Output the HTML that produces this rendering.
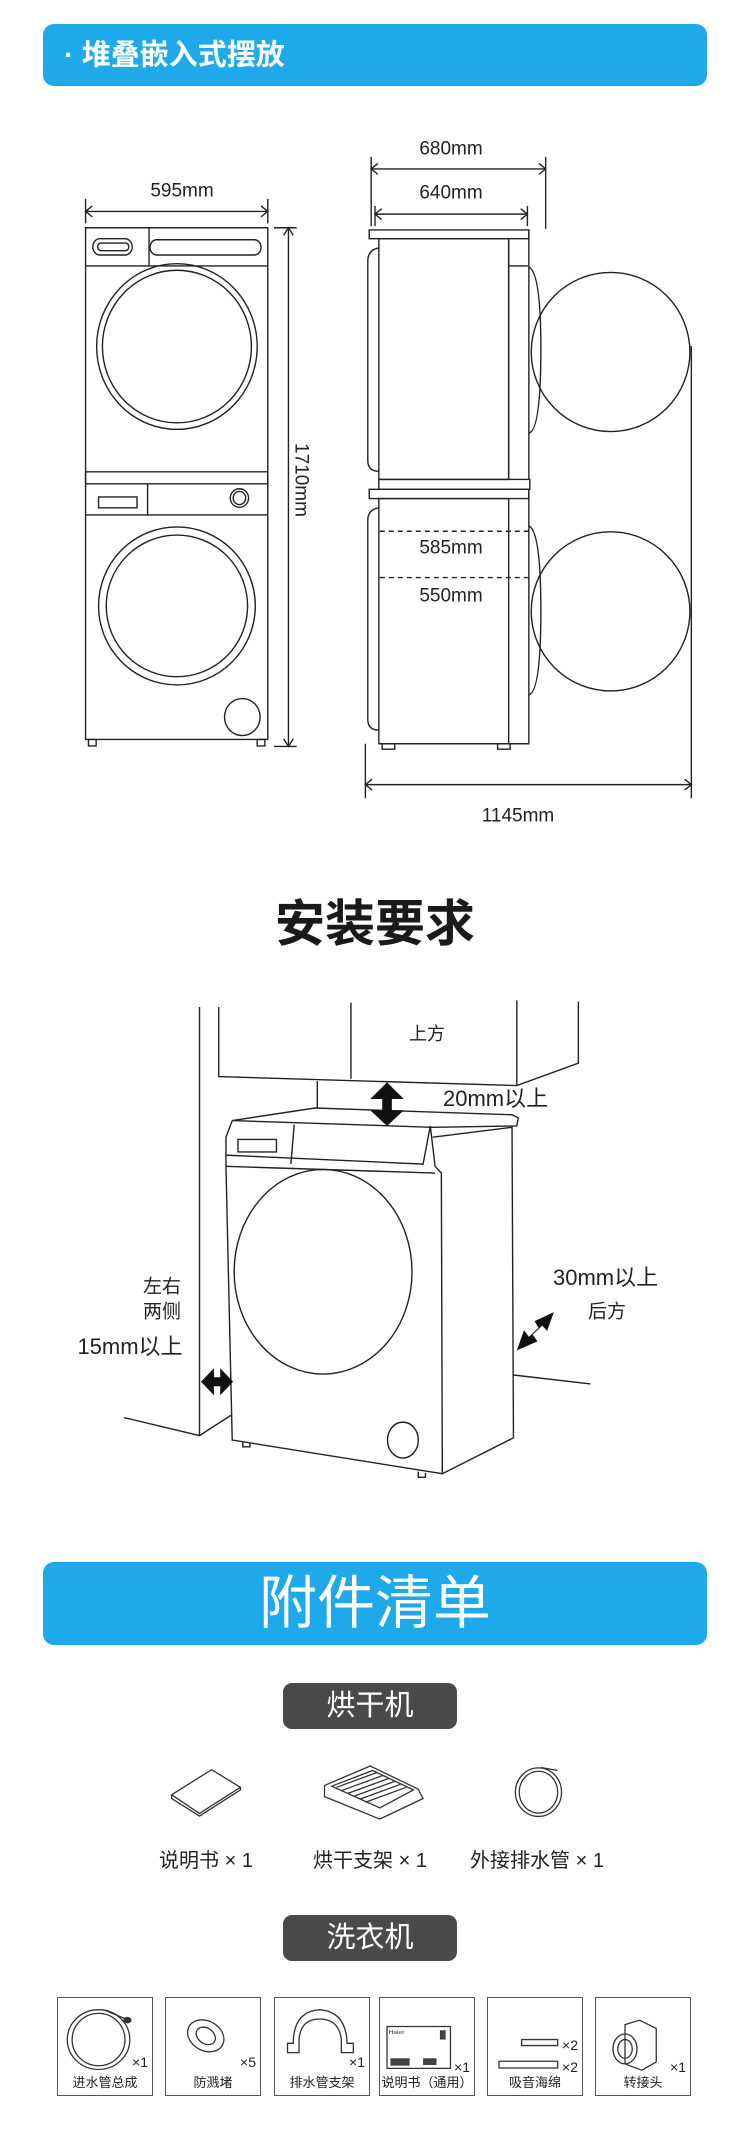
<!DOCTYPE html>
<html><head><meta charset="utf-8">
<style>
*{margin:0;padding:0;box-sizing:border-box}
body{width:750px;height:2133px;background:#fff;position:relative;overflow:hidden;font-family:"Liberation Sans","Noto Sans CJK SC",sans-serif;color:#222}
.a{position:absolute;white-space:nowrap;line-height:1}
.c{transform:translate(-50%,-50%)}
.l{transform:translateY(-50%)}
svg{position:absolute;left:0}
.bar{position:absolute;left:43px;width:664px;background:#1eaaea;border-radius:11px}
.lab{position:absolute;left:283px;width:174px;background:#4a4a4a;border-radius:9px;color:#fff;font-size:29px;text-align:center}
.box{position:absolute;border:1.5px solid #555;top:1997px;height:99px;width:96px}
.bl{position:absolute;bottom:4px;left:0;right:0;text-align:center;font-size:13px;color:#222}
</style></head><body>

<!-- Section 1 -->
<div class="bar" style="top:24px;height:62px"></div>
<div class="a l" style="left:64px;top:56px;font-size:29px;color:#fff;font-weight:bold">·&nbsp;堆叠嵌入式摆放</div>

<svg style="top:0" width="750" height="850" viewBox="0 0 1560 1560" preserveAspectRatio="none">
<g fill="none" stroke="#222" stroke-width="1.4" vector-effect="non-scaling-stroke">
<!-- left machine -->
<rect x="178" y="418" width="379" height="939" vector-effect="non-scaling-stroke"/>
<line x1="178" y1="488" x2="557" y2="488" vector-effect="non-scaling-stroke"/>
<line x1="310" y1="418" x2="310" y2="488" vector-effect="non-scaling-stroke"/>
<rect x="193" y="438" width="82" height="30" rx="15" vector-effect="non-scaling-stroke"/>
<rect x="203" y="446" width="65" height="14" rx="7" vector-effect="non-scaling-stroke"/>
<rect x="312" y="440" width="231" height="28" rx="14" vector-effect="non-scaling-stroke"/>
<ellipse cx="368" cy="636" rx="167" ry="152" vector-effect="non-scaling-stroke"/>
<ellipse cx="368" cy="636" rx="155" ry="140" vector-effect="non-scaling-stroke"/>
<rect x="178" y="866" width="379" height="22" vector-effect="non-scaling-stroke"/>
<line x1="178" y1="945" x2="557" y2="945" vector-effect="non-scaling-stroke"/>
<line x1="307" y1="888" x2="307" y2="945" vector-effect="non-scaling-stroke"/>
<rect x="205" y="912" width="80" height="20" vector-effect="non-scaling-stroke"/>
<ellipse cx="498" cy="914" rx="19" ry="17" vector-effect="non-scaling-stroke"/>
<ellipse cx="498" cy="914" rx="13" ry="12" vector-effect="non-scaling-stroke"/>
<ellipse cx="368" cy="1112" rx="163" ry="145" vector-effect="non-scaling-stroke"/>
<ellipse cx="368" cy="1112" rx="147" ry="130" vector-effect="non-scaling-stroke"/>
<ellipse cx="504" cy="1316" rx="37" ry="34" vector-effect="non-scaling-stroke"/>
<rect x="184" y="1357" width="16" height="12" vector-effect="non-scaling-stroke"/>
<rect x="535" y="1357" width="16" height="12" vector-effect="non-scaling-stroke"/>
<!-- dims left -->
<line x1="178" y1="388" x2="557" y2="388" vector-effect="non-scaling-stroke"/>
<line x1="178" y1="365" x2="178" y2="410" vector-effect="non-scaling-stroke"/>
<line x1="557" y1="365" x2="557" y2="410" vector-effect="non-scaling-stroke"/>
<polyline points="192,378 178,388 192,398" vector-effect="non-scaling-stroke"/>
<polyline points="543,378 557,388 543,398" vector-effect="non-scaling-stroke"/>
<line x1="600" y1="418" x2="600" y2="1370" vector-effect="non-scaling-stroke"/>
<line x1="570" y1="418" x2="617" y2="418" vector-effect="non-scaling-stroke"/>
<line x1="570" y1="1370" x2="617" y2="1370" vector-effect="non-scaling-stroke"/>
<polyline points="590,432 600,418 610,432" vector-effect="non-scaling-stroke"/>
<polyline points="590,1356 600,1370 610,1356" vector-effect="non-scaling-stroke"/>
<!-- side view upper -->
<rect x="768" y="422" width="332" height="16" vector-effect="non-scaling-stroke"/>
<rect x="788" y="438" width="270" height="442" vector-effect="non-scaling-stroke"/>
<path d="M788 455 Q765 458 765 480 L765 845 Q765 865 788 865" vector-effect="non-scaling-stroke"/>
<path d="M1058 438 L1058 880 M1058 488 L1098 488 M1100 422 L1100 880" vector-effect="non-scaling-stroke"/>
<path d="M1100 490 Q1125 500 1125 640 Q1125 790 1100 795" vector-effect="non-scaling-stroke"/>
<rect x="788" y="880" width="314" height="18" vector-effect="non-scaling-stroke"/>
<rect x="768" y="898" width="332" height="17" vector-effect="non-scaling-stroke"/>
<rect x="788" y="915" width="270" height="450" vector-effect="non-scaling-stroke"/>
<path d="M788 932 Q765 935 765 955 L765 1320 Q765 1340 788 1340" vector-effect="non-scaling-stroke"/>
<path d="M1100 898 L1100 1365 L1058 1365" vector-effect="non-scaling-stroke"/>
<path d="M1100 965 Q1125 975 1125 1120 Q1125 1270 1100 1275" vector-effect="non-scaling-stroke"/>
<ellipse cx="1270" cy="646" rx="165" ry="146" vector-effect="non-scaling-stroke"/>
<ellipse cx="1270" cy="1122" rx="165" ry="146" vector-effect="non-scaling-stroke"/>
<rect x="795" y="1365" width="26" height="10" vector-effect="non-scaling-stroke"/>
<rect x="1035" y="1365" width="26" height="10" vector-effect="non-scaling-stroke"/>
<line x1="790" y1="975" x2="1100" y2="975" stroke-dasharray="5,4" vector-effect="non-scaling-stroke"/>
<line x1="790" y1="1060" x2="1100" y2="1060" stroke-dasharray="5,4" vector-effect="non-scaling-stroke"/>
<!-- dims right -->
<line x1="772" y1="310" x2="1135" y2="310" vector-effect="non-scaling-stroke"/>
<line x1="772" y1="288" x2="772" y2="415" vector-effect="non-scaling-stroke"/>
<line x1="1135" y1="288" x2="1135" y2="420" vector-effect="non-scaling-stroke"/>
<polyline points="786,300 772,310 786,320" vector-effect="non-scaling-stroke"/>
<polyline points="1121,300 1135,310 1121,320" vector-effect="non-scaling-stroke"/>
<line x1="780" y1="393" x2="1097" y2="393" vector-effect="non-scaling-stroke"/>
<line x1="780" y1="378" x2="780" y2="415" vector-effect="non-scaling-stroke"/>
<line x1="1097" y1="378" x2="1097" y2="415" vector-effect="non-scaling-stroke"/>
<polyline points="794,383 780,393 794,403" vector-effect="non-scaling-stroke"/>
<polyline points="1083,383 1097,393 1083,403" vector-effect="non-scaling-stroke"/>
<line x1="760" y1="1440" x2="1438" y2="1440" vector-effect="non-scaling-stroke"/>
<line x1="760" y1="1365" x2="760" y2="1465" vector-effect="non-scaling-stroke"/>
<line x1="1438" y1="635" x2="1438" y2="1465" vector-effect="non-scaling-stroke"/>
<polyline points="774,1430 760,1440 774,1450" vector-effect="non-scaling-stroke"/>
<polyline points="1424,1430 1438,1440 1424,1450" vector-effect="non-scaling-stroke"/>
</g></svg>
<div class="a c" style="left:182px;top:191px;font-size:19px">595mm</div>
<div class="a c" style="left:451px;top:149px;font-size:19px">680mm</div>
<div class="a c" style="left:451px;top:193px;font-size:19px">640mm</div>
<div class="a c" style="left:301px;top:480px;font-size:19px;transform:translate(-50%,-50%) rotate(90deg)">1710mm</div>
<div class="a c" style="left:451px;top:548px;font-size:19px">585mm</div>
<div class="a c" style="left:451px;top:596px;font-size:19px">550mm</div>
<div class="a c" style="left:518px;top:816px;font-size:19px">1145mm</div>

<!-- Section 2 -->
<div class="a c" style="left:375px;top:924px;font-size:50px;font-weight:bold;color:#1a1a1a">安装要求</div>
<svg style="top:850px" width="750" height="700" viewBox="0 0 1560 1560" preserveAspectRatio="none">
<g fill="none" stroke="#222" stroke-width="1.4">
<path d="M415 350 L415 1305 M258 1265 L415 1305 L480 1260" vector-effect="non-scaling-stroke"/>
<path d="M455 350 L455 505 L1075 525 L1203 475 L1203 338 M730 340 L730 510 M1075 335 L1075 525 M660 515 L660 575" vector-effect="non-scaling-stroke"/>
<path d="M483 603 L655 575 L1065 590 L1078 597 L1075 615 L900 618 Z" vector-effect="non-scaling-stroke"/>
<path d="M483 603 L470 640 L470 705 L483 1315 L920 1390 L918 720 L905 705 L895 615" vector-effect="non-scaling-stroke"/>
<path d="M470 680 L880 700 L895 615 M470 705 L905 720 M900 640 L1065 618 L1068 1310 L920 1390 M612 612 L605 700" vector-effect="non-scaling-stroke"/>
<rect x="495" y="645" width="80" height="28" vector-effect="non-scaling-stroke"/>
<ellipse cx="672" cy="940" rx="185" ry="228" vector-effect="non-scaling-stroke"/>
<ellipse cx="838" cy="1315" rx="32" ry="40" vector-effect="non-scaling-stroke"/>
<path d="M505 1320 L505 1330 L520 1330 L520 1322 M870 1385 L870 1398 L885 1398 L885 1388 M1068 1170 L1228 1190" vector-effect="non-scaling-stroke"/>
</g>
<g fill="#111">
<polygon points="805,518 840,555 815,555 815,580 840,580 805,615 770,580 795,580 795,555 770,555"/>
<polygon points="418,1185 445,1155 445,1175 458,1175 458,1155 485,1185 458,1215 458,1195 445,1195 445,1215"/>
<polygon points="1075,1115 1090,1070 1100,1085 1120,1065 1112,1050 1152,1030 1138,1072 1128,1060 1108,1080 1118,1095"/>
</g></svg>
<div class="a c" style="left:427px;top:1034px;font-size:18px">上方</div>
<div class="a l" style="left:443px;top:1099px;font-size:22px">20mm以上</div>
<div class="a l" style="left:553px;top:1278px;font-size:22px">30mm以上</div>
<div class="a c" style="left:607px;top:1312px;font-size:19px">后方</div>
<div class="a c" style="left:162px;top:1287px;font-size:19px">左右</div>
<div class="a c" style="left:162px;top:1312px;font-size:19px">两侧</div>
<div class="a c" style="left:130px;top:1347px;font-size:22px">15mm以上</div>

<!-- Section 3 -->
<div class="bar" style="top:1562px;height:83px"></div>
<div class="a c" style="left:375px;top:1604px;font-size:58px;color:#fff">附件清单</div>
<div class="lab" style="top:1683px;height:46px;line-height:46px">烘干机</div>
<div class="lab" style="top:1915px;height:46px;line-height:46px">洗衣机</div>
<svg style="top:1550px" width="750" height="583" viewBox="0 0 1560 1560" preserveAspectRatio="none">
<g fill="none" stroke="#333" stroke-width="1.3">
<path d="M357 655 L440 588 L500 635 L415 705 Z M357 655 L357 665 L415 712 L500 642 L500 635" vector-effect="non-scaling-stroke"/>
<path d="M675 630 L770 578 L870 640 L880 665 L790 720 L675 660 Z M690 632 L775 590 L860 642 L790 690 Z" vector-effect="non-scaling-stroke"/>
<path d="M700 635 L785 595 M712 643 L797 603 M724 651 L809 611 M736 659 L821 619 M748 667 L833 627 M760 675 L845 635" vector-effect="non-scaling-stroke"/>
<ellipse cx="1120" cy="648" rx="48" ry="65" vector-effect="non-scaling-stroke"/>
<ellipse cx="1120" cy="648" rx="40" ry="56" vector-effect="non-scaling-stroke"/>
<path d="M1125 582 L1160 590" vector-effect="non-scaling-stroke"/>
<ellipse cx="205" cy="1310" rx="65" ry="80" vector-effect="non-scaling-stroke"/>
<ellipse cx="205" cy="1310" rx="55" ry="70" vector-effect="non-scaling-stroke"/>
<path d="M215 1230 L262 1255" vector-effect="non-scaling-stroke"/>
<circle cx="265" cy="1258" r="8" fill="#333"/>
<ellipse cx="428" cy="1300" rx="35" ry="45" transform="rotate(-30 428 1300)" vector-effect="non-scaling-stroke"/>
<ellipse cx="428" cy="1300" rx="18" ry="25" transform="rotate(-30 428 1300)" vector-effect="non-scaling-stroke"/>
<path d="M598 1345 L598 1320 L610 1320 Q610 1235 665 1230 Q720 1235 722 1320 L735 1320 L735 1345 L710 1345 L710 1310 Q705 1255 665 1255 Q625 1255 622 1310 L622 1345 Z" vector-effect="non-scaling-stroke"/>
<rect x="805" y="1275" width="132" height="112" vector-effect="non-scaling-stroke"/>
<rect x="1085" y="1310" width="75" height="16" vector-effect="non-scaling-stroke"/>
<rect x="1038" y="1368" width="122" height="18" vector-effect="non-scaling-stroke"/>
<path d="M1300 1270 L1330 1258 L1365 1280 L1365 1370 L1335 1392 L1300 1375 Z" vector-effect="non-scaling-stroke"/>
<ellipse cx="1300" cy="1335" rx="25" ry="40" vector-effect="non-scaling-stroke"/>
<ellipse cx="1300" cy="1335" rx="15" ry="25" vector-effect="non-scaling-stroke"/>
</g>
<g fill="#444"><rect x="915" y="1285" width="12" height="25"/><rect x="880" y="1360" width="28" height="18"/><rect x="812" y="1360" width="40" height="20"/></g>
<text x="808" y="1295" font-size="14" fill="#333" font-family="Liberation Sans">Haier</text>
</svg>
<div class="a c" style="left:206px;top:1861px;font-size:20px">说明书 × 1</div>
<div class="a c" style="left:370px;top:1861px;font-size:20px">烘干支架 × 1</div>
<div class="a c" style="left:537px;top:1861px;font-size:20px">外接排水管 × 1</div>

<div class="box" style="left:57px"><div class="a" style="right:4px;top:57px;font-size:14px">×1</div><div class="bl">进水管总成</div></div>
<div class="box" style="left:165px"><div class="a" style="right:4px;top:57px;font-size:14px">×5</div><div class="bl">防溅堵</div></div>
<div class="box" style="left:274px"><div class="a" style="right:4px;top:57px;font-size:14px">×1</div><div class="bl">排水管支架</div></div>
<div class="box" style="left:379px"><div class="a" style="right:4px;top:62px;font-size:14px">×1</div><div class="bl">说明书（通用）</div></div>
<div class="box" style="left:487px"><div class="a" style="right:4px;top:40px;font-size:14px">×2</div><div class="a" style="right:4px;top:62px;font-size:14px">×2</div><div class="bl">吸音海绵</div></div>
<div class="box" style="left:595px"><div class="a" style="right:4px;top:62px;font-size:14px">×1</div><div class="bl">转接头</div></div>
</body></html>
